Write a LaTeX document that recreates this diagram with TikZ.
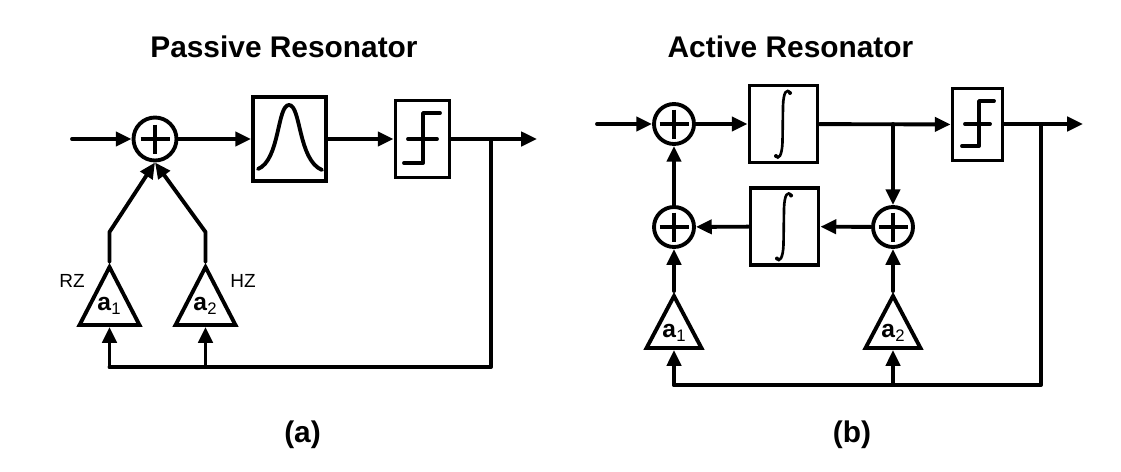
\documentclass[tikz,border=0pt]{standalone}
\usepackage{fontspec}
\setmainfont{Liberation Sans}
\usetikzlibrary{arrows.meta,shapes.geometric}
\tikzset{
  wire/.style={line width=2.2pt,line cap=round,line join=round},
  flow/.style={wire,-{Triangle[length=9pt,width=8pt]}},
  blockbox/.style={draw,line width=2.2pt,rectangle,inner sep=0pt},
  sumnode/.style={draw,line width=2.2pt,circle,inner sep=0pt,minimum size=#1,
    path picture={
      \draw[line width=2.2pt] (path picture bounding box.center) ++(-14.5,0) -- ++(29,0);
      \draw[line width=2.2pt] (path picture bounding box.center) ++(0,-14.5) -- ++(0,29);
    }},
  gainamp/.style={draw,line width=2.2pt,isosceles triangle,isosceles triangle stretches,
    shape border rotate=90,inner sep=0pt,minimum width=#1},
  title/.style={font=\fontsize{17}{20}\selectfont\bfseries},
  gaintext/.style={font=\fontsize{14}{16}\selectfont},
  tagtext/.style={font=\fontsize{10.8}{12}\selectfont}
}
\newcommand{\intcurve}[1]{
  \begin{scope}[shift={(#1.center)}]
    \draw[line width=1.5pt,line cap=round] (7,-31) .. controls (3,-36) and (0,-32) .. (-0.5,-18)
      -- (-1,18) .. controls (-1.5,32) and (-5,36) .. (-8,32);
    \fill (6.5,-31) circle (2) (-7.5,32) circle (2);
  \end{scope}
}
\newcommand{\gainlabel}[1]{\textbf{a}{\fontsize{9.5}{11}\selectfont\raisebox{-0.5ex}{#1}}}
\begin{document}
\begin{tikzpicture}[x=0.02cm,y=-0.02cm]
  \useasboundingbox (0,0) rectangle (1121,471);

  % passive resonator
  \node[title] (titlea) at (284,47) {Passive Resonator};
  \node[title] (capa) at (302.5,435) {(a)};
  \coordinate (ina) at (72,139);
  \node[sumnode=0.86cm] (suma) at (155,139) {};
  \node[blockbox,minimum width=1.46cm,minimum height=1.68cm] (peak) at (289.5,139) {};
  \node[blockbox,minimum width=1.08cm,minimum height=1.54cm] (lima) at (422.5,139) {};
  \coordinate (outa) at (537,139);
  \coordinate (brancha) at (491,139);
  \node[gainamp=1.2cm,minimum height=1.16cm,anchor=apex] (ampa1) at (109.5,262) {};
  \node[gainamp=1.2cm,minimum height=1.16cm,anchor=apex] (ampa2) at (205.5,262) {};
  \coordinate (kinka1) at (109.5,232);
  \coordinate (kinka2) at (205.5,232);
  \coordinate (basea1) at (109.5,367);
  \coordinate (basea2) at (205.5,367);
  \coordinate (cornera) at (491,367);

  \node[gaintext] (labela1) at (109,306) {\gainlabel{1}};
  \node[gaintext] (labela2) at (205,306) {\gainlabel{2}};
  \node[tagtext] (rz) at (72,281) {RZ};
  \node[tagtext] (hz) at (243,281) {HZ};

  \draw[wire] (258,169) .. controls (280,160) and (277,105) .. (289,105)
    .. controls (301,105) and (298,160) .. (322,170);
  \draw[wire] (408,139) -- (437,139);
  \draw[wire] (404,163) -- (423,163) -- (423,113) -- (440,113);

  \draw[flow] (ina) -- (suma);
  \draw[flow] (suma) -- (peak);
  \draw[flow] (peak) -- (lima);
  \draw[flow] (lima) -- (outa);
  \draw[flow] (ampa1.apex) -- (kinka1) -- (suma.south);
  \draw[flow] (ampa2.apex) -- (kinka2) -- (suma.south);
  \draw[wire] (brancha) -- (cornera) -- (basea1);
  \draw[flow] (basea1) -- (ampa1.south);
  \draw[flow] (basea2) -- (ampa2.south);

  % active resonator
  \node[title] (titleb) at (790.5,47) {Active Resonator};
  \node[title] (capb) at (852,435) {(b)};
  \coordinate (inb) at (597,124);
  \node[sumnode=0.8cm] (sumb1) at (674,124) {};
  \node[sumnode=0.8cm] (sumb2) at (674,227) {};
  \node[sumnode=0.8cm] (sumb3) at (893,227) {};
  \node[blockbox,minimum width=1.36cm,minimum height=1.54cm] (intb1) at (783.5,124) {};
  \node[blockbox,minimum width=1.36cm,minimum height=1.54cm] (intb2) at (784.5,226.5) {};
  \node[blockbox,minimum width=1cm,minimum height=1.44cm] (limb) at (977.5,124.5) {};
  \coordinate (outb) at (1083,124);
  \coordinate (branchb) at (1041,124);
  \coordinate (tapb) at (893,124);
  \node[gainamp=1.1cm,minimum height=1.04cm,anchor=apex] (ampb1) at (674,291) {};
  \node[gainamp=1.1cm,minimum height=1.04cm,anchor=apex] (ampb2) at (893,291) {};
  \coordinate (baseb1) at (674,385);
  \coordinate (baseb2) at (893,385);
  \coordinate (cornerb) at (1041,385);

  \node[gaintext] (labelb1) at (674,333) {\gainlabel{1}};
  \node[gaintext] (labelb2) at (893,333) {\gainlabel{2}};

  \intcurve{intb1}
  \intcurve{intb2}
  \draw[wire] (965,124) -- (990,124);
  \draw[wire] (962,146) -- (979,146) -- (979,101) -- (994,101);

  \draw[flow] (inb) -- (sumb1);
  \draw[flow] (sumb1) -- (intb1);
  \draw[flow] (intb1) -- (limb);
  \draw[flow] (limb.east |- outb) -- (outb);
  \draw[flow] (tapb) -- (sumb3);
  \draw[flow] (sumb3) -- (intb2);
  \draw[flow] (intb2) -- (sumb2);
  \draw[flow] (sumb2) -- (sumb1);
  \draw[flow] (ampb1.apex) -- (sumb2);
  \draw[flow] (ampb2.apex) -- (sumb3);
  \draw[wire] (branchb) -- (cornerb) -- (baseb1);
  \draw[flow] (baseb1) -- (ampb1.south);
  \draw[flow] (baseb2) -- (ampb2.south);
\end{tikzpicture}
\end{document}
